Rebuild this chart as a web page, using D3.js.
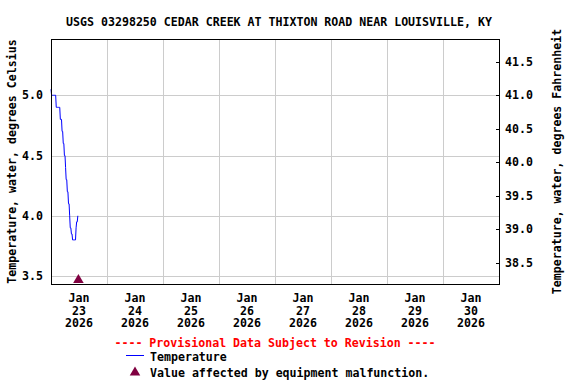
<!DOCTYPE html>
<html>
<head>
<meta charset="utf-8">
<script src="https://cdn.jsdelivr.net/npm/d3@7"></script>
<style>
body { margin: 0; background: #fff; }
text { font-family: "DejaVu Sans Mono", monospace; font-weight: bold; font-size: 11.6px; }
line, rect { shape-rendering: crispEdges; }
</style>
</head>
<body>
<script>
var w = 576;
var h = 384;

// readings every 15 minutes starting Jan 23 2026 00:00
var startTime = Date.UTC(2026, 0, 23, 0, 0);
var tempC = [5.05, 5.0, 5.0, 5.0, 5.0, 5.0, 5.0, 5.0, 5.0,
    4.9, 4.9, 4.9, 4.9, 4.9, 4.9, 4.9,
    4.8, 4.8, 4.8, 4.7, 4.7, 4.6, 4.6, 4.5, 4.5,
    4.4, 4.3, 4.3, 4.2, 4.2, 4.1, 4.1, 4.0,
    3.9, 3.9, 3.85, 3.85, 3.8, 3.8, 3.8, 3.8, 3.8, 3.8,
    3.9, 3.95, 3.95, 4.0];
var malfunctionTimes = [Date.UTC(2026, 0, 23, 11, 45)];
var dayLabels = ["23", "24", "25", "26", "27", "28", "29", "30"];
var celsiusTicks = [3.5, 4.0, 4.5, 5.0];
var fahrenheitTicks = [38.5, 39.0, 39.5, 40.0, 40.5, 41.0, 41.5];

var pLeft = 51, pRight = 499, pTop = 39, pBottom = 284;

var x = d3.scaleUtc()
    .domain([new Date(Date.UTC(2026, 0, 23)), new Date(Date.UTC(2026, 0, 31))])
    .range([pLeft, pRight]);
var y = d3.scaleLinear()
    .domain([3.434, 5.467])
    .range([pBottom, pTop]);
var yF = d3.scaleLinear()
    .domain([3.434 * 1.8 + 32, 5.467 * 1.8 + 32])
    .range([pBottom, pTop]);

var svg = d3.select("body")
    .append("svg")
    .attr("width", w)
    .attr("height", h);

// grid
var midnights = d3.utcDay.range(new Date(Date.UTC(2026, 0, 24)), new Date(Date.UTC(2026, 0, 31)));
svg.selectAll("line.vgrid")
    .data(midnights)
    .enter()
    .append("line")
    .attr("x1", function (d) { return Math.round(x(d)) + 0.5; })
    .attr("x2", function (d) { return Math.round(x(d)) + 0.5; })
    .attr("y1", pTop)
    .attr("y2", pBottom)
    .attr("stroke", "#cccccc");
svg.selectAll("line.hgrid")
    .data(celsiusTicks)
    .enter()
    .append("line")
    .attr("x1", pLeft)
    .attr("x2", pRight)
    .attr("y1", function (d) { return Math.round(y(d)) + 0.5; })
    .attr("y2", function (d) { return Math.round(y(d)) + 0.5; })
    .attr("stroke", "#cccccc");

// left axis
var yAxis = d3.axisLeft(y)
    .tickValues(celsiusTicks)
    .tickFormat(d3.format(".1f"))
    .tickSize(0)
    .tickPadding(8);
svg.append("g")
    .attr("transform", "translate(" + pLeft + ",0)")
    .call(yAxis)
    .call(function (g) { g.select(".domain").remove(); })
    .selectAll("text")
    .attr("fill", "#000")
    .style("font-family", "DejaVu Sans Mono")
    .style("font-weight", "bold")
    .style("font-size", "11.6px");

// right axis
var yAxisF = d3.axisLeft(yF)
    .tickValues(fahrenheitTicks)
    .tickFormat(d3.format(".1f"))
    .tickSize(3);
var gR = svg.append("g")
    .attr("transform", "translate(" + pRight + ",0)")
    .call(yAxisF)
    .call(function (g) { g.select(".domain").remove(); });
gR.selectAll("text")
    .attr("text-anchor", "start")
    .attr("x", 6)
    .attr("fill", "#000")
    .style("font-family", "DejaVu Sans Mono")
    .style("font-weight", "bold")
    .style("font-size", "11.6px");

// bottom labels at noon of each day
var noons = dayLabels.map(function (d) { return new Date(Date.UTC(2026, 0, +d, 12)); });
var xl = svg.selectAll("text.xlab")
    .data(noons)
    .enter()
    .append("text")
    .attr("text-anchor", "middle")
    .attr("x", function (d) { return x(d); });
xl.append("tspan").attr("x", function (d) { return x(d); }).attr("y", 302).text("Jan");
xl.append("tspan").attr("x", function (d) { return x(d); }).attr("y", 314.5).text(function (d, i) { return dayLabels[i]; });
xl.append("tspan").attr("x", function (d) { return x(d); }).attr("y", 327).text("2026");

// data line
var line = d3.line()
    .x(function (d, i) { return x(new Date(startTime + i * 15 * 60000)); })
    .y(function (d) { return y(d); });
svg.append("path")
    .datum(tempC)
    .attr("d", line)
    .attr("fill", "none")
    .attr("stroke", "#0000ff")
    .attr("stroke-width", 1);

// malfunction markers
var tri = d3.symbol().type(d3.symbolTriangle).size(48);
svg.selectAll("path.mal")
    .data(malfunctionTimes)
    .enter()
    .append("path")
    .attr("d", tri)
    .attr("transform", function (d) { return "translate(" + x(new Date(d)) + "," + (pBottom - 4) + ")"; })
    .attr("fill", "#800040");

// frame
svg.append("rect")
    .attr("x", pLeft + 0.5)
    .attr("y", pTop + 0.5)
    .attr("width", pRight - pLeft)
    .attr("height", pBottom - pTop)
    .attr("fill", "none")
    .attr("stroke", "#000");

// titles
svg.append("text")
    .attr("x", 279)
    .attr("y", 26)
    .attr("text-anchor", "middle")
    .text("USGS 03298250 CEDAR CREEK AT THIXTON ROAD NEAR LOUISVILLE, KY");
svg.append("text")
    .attr("transform", "translate(16," + ((pTop + pBottom) / 2) + ") rotate(-90)")
    .attr("text-anchor", "middle")
    .text("Temperature, water, degrees Celsius");
svg.append("text")
    .attr("transform", "translate(561," + ((pTop + pBottom) / 2) + ") rotate(-90)")
    .attr("text-anchor", "middle")
    .text("Temperature, water, degrees Fahrenheit");

// legend
svg.append("text")
    .attr("x", 275)
    .attr("y", 346.5)
    .attr("text-anchor", "middle")
    .attr("fill", "#ff0000")
    .text("---- Provisional Data Subject to Revision ----");
svg.append("line")
    .attr("x1", 126)
    .attr("x2", 144)
    .attr("y1", 355.5)
    .attr("y2", 355.5)
    .attr("stroke", "#0000ff");
svg.append("text")
    .attr("x", 150)
    .attr("y", 361)
    .text("Temperature");
svg.append("path")
    .attr("d", tri)
    .attr("transform", "translate(135,372.5)")
    .attr("fill", "#800040");
svg.append("text")
    .attr("x", 150)
    .attr("y", 376.5)
    .text("Value affected by equipment malfunction.");
</script>
</body>
</html>
